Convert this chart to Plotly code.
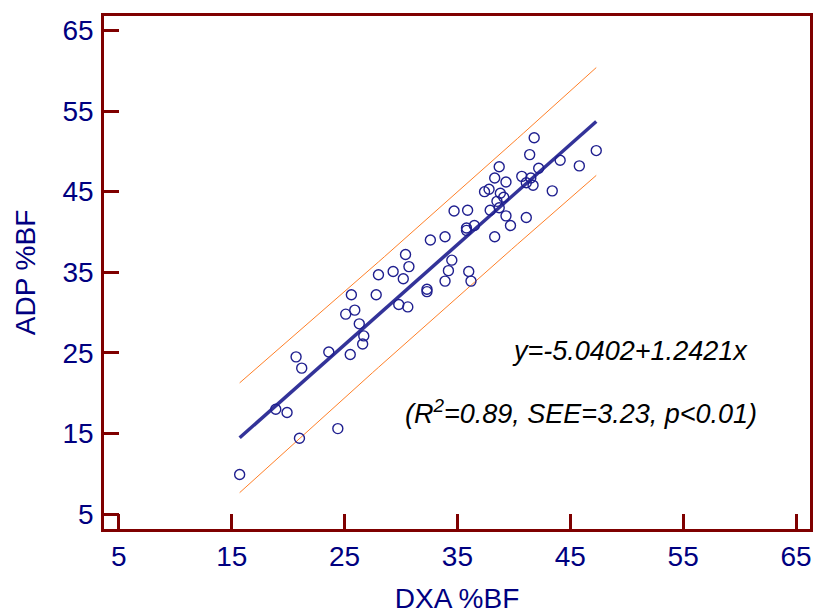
import numpy as np
import plotly.graph_objects as go

# DXA %BF (x) and ADP %BF (y)
dxa = [15.7, 18.9, 19.9, 21.0, 24.4, 20.7, 21.2, 23.6, 25.5, 26.6,
       26.7, 26.3, 25.1, 25.9, 25.6, 27.8, 29.8, 30.6, 28.0, 29.3,
       30.2, 30.7, 30.4, 32.3, 32.3, 33.9, 34.2, 34.5, 36.0, 36.2,
       32.6, 33.9, 34.7, 35.9, 35.8, 35.8, 36.5, 38.3, 37.9, 38.7,
       39.3, 39.7, 41.1, 38.5, 39.1, 38.8, 37.4, 37.8, 38.3, 39.3,
       38.7, 40.7, 41.5, 41.1, 41.7, 42.2, 43.4, 41.4, 41.8, 44.1,
       45.8, 47.3]
adp = [9.9, 18.0, 17.6, 14.4, 15.6, 24.5, 23.1, 25.1, 24.8, 26.1,
       27.1, 28.6, 29.8, 30.3, 32.2, 32.2, 31.0, 30.7, 34.7, 35.1,
       34.2, 35.7, 37.2, 32.9, 32.6, 33.9, 35.2, 36.5, 35.1, 33.9,
       39.0, 39.4, 42.6, 42.7, 40.5, 40.2, 40.8, 39.4, 42.7, 43.0,
       42.0, 40.8, 41.8, 43.8, 44.3, 44.8, 45.0, 45.3, 46.7, 46.2,
       48.1, 46.9, 46.7, 46.1, 45.8, 47.9, 45.1, 49.6, 51.7, 48.9,
       48.2, 50.1]

# regression reported on the chart
intercept = -5.0402
slope = 1.2421
see = 3.23
t_crit = 2.0

tick_vals = [5, 15, 25, 35, 45, 55, 65]
eq_text = "y=-5.0402+1.2421x"
stat_text = "(R<sup>2</sup>=0.89, SEE=3.23, p<0.01)"

xa = np.array(dxa)
n = len(xa)
xs = np.linspace(xa.min(), xa.max(), 60)
yhat = intercept + slope * xs
sxx = ((xa - xa.mean()) ** 2).sum()
half = t_crit * see * np.sqrt(1 + 1 / n + (xs - xa.mean()) ** 2 / sxx)

NAVY = "#000080"
MAROON = "#7f0000"
ORANGE = "#ff7f27"
FONT = "Arial, Liberation Sans, sans-serif"

fig = go.Figure()
fig.add_trace(go.Scatter(x=xs, y=yhat + half, mode="lines",
                         line=dict(color=ORANGE, width=1), hoverinfo="skip"))
fig.add_trace(go.Scatter(x=xs, y=yhat - half, mode="lines",
                         line=dict(color=ORANGE, width=1), hoverinfo="skip"))
fig.add_trace(go.Scatter(x=xs, y=yhat, mode="lines",
                         line=dict(color="#333399", width=3.5)))
fig.add_trace(go.Scatter(x=dxa, y=adp, mode="markers",
                         marker=dict(symbol="circle-open", size=10,
                                     color="#1f1f8f", line=dict(width=1.4))))

axis_common = dict(
    tickvals=tick_vals, ticks="inside", ticklen=15, tickwidth=2.5,
    tickcolor=MAROON, showline=True, linecolor=MAROON, linewidth=2.5,
    mirror=True, showgrid=False, zeroline=False,
    tickfont=dict(family=FONT, size=28, color=NAVY),
)

fig.update_layout(
    width=817, height=614,
    margin=dict(l=104, r=4, t=16, b=85),
    paper_bgcolor="white", plot_bgcolor="white",
    showlegend=False,
    xaxis=dict(range=[3.68, 66.24], ticklabelstandoff=1,
               title=dict(text="DXA %BF", standoff=18,
                          font=dict(family=FONT, size=28, color=NAVY)),
               **axis_common),
    yaxis=dict(range=[3.14, 66.8], ticklabelstandoff=2,
               title=dict(text="ADP %BF", standoff=19,
                          font=dict(family=FONT, size=28, color=NAVY)),
               **axis_common),
    annotations=[
        dict(text="<i>" + eq_text + "</i>", x=0.745, y=0.3476,
             xref="paper", yref="paper", showarrow=False,
             xanchor="center", yanchor="middle",
             font=dict(family=FONT, size=27, color="black")),
        dict(text="<i>" + stat_text + "</i>", x=0.676, y=0.2287,
             xref="paper", yref="paper", showarrow=False,
             xanchor="center", yanchor="middle",
             font=dict(family=FONT, size=27, color="black")),
    ],
)

fig.write_html(
    "out.html",
    config={"displayModeBar": False},
    post_script="document.body.style.margin='0';document.body.style.overflow='hidden';",
)
